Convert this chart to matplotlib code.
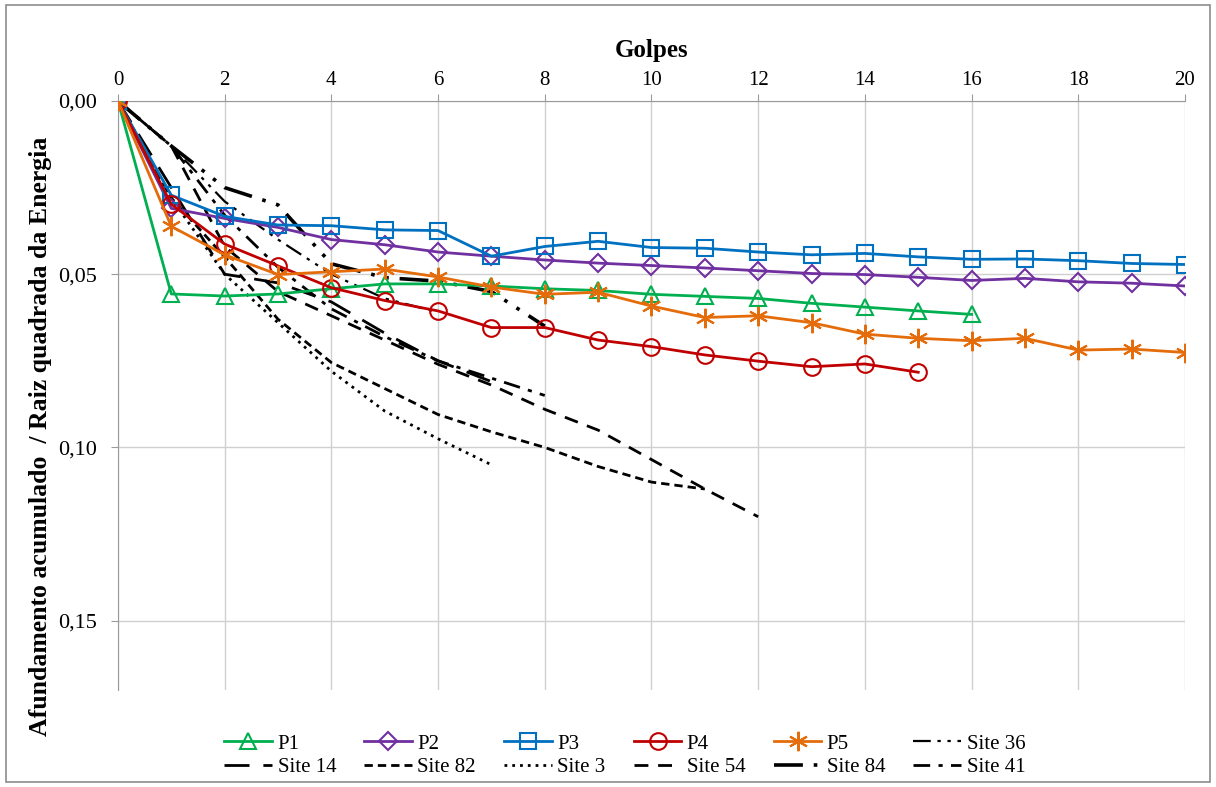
import matplotlib.pyplot as plt
import matplotlib.ticker as mticker
from matplotlib.patches import Rectangle

# golpes (blows) on x, accumulated sinking / sqrt(energy) on y
golpes = list(range(21))

p1 = [0, 0.0557, 0.0563, 0.0557, 0.0542, 0.0528, 0.0528, 0.0534, 0.0542, 0.0547,
      0.0558, 0.0564, 0.0570, 0.0584, 0.0595, 0.0606, 0.0616]
p2 = [0, 0.0310, 0.0339, 0.0365, 0.0400, 0.0415, 0.0436, 0.0448, 0.0459, 0.0468,
      0.0475, 0.0482, 0.0490, 0.0498, 0.0501, 0.0509, 0.0518, 0.0512, 0.0522,
      0.0526, 0.0534]
p3 = [0, 0.0272, 0.0333, 0.0358, 0.0360, 0.0372, 0.0374, 0.0448, 0.0420, 0.0405,
      0.0423, 0.0425, 0.0436, 0.0444, 0.0440, 0.0450, 0.0457, 0.0456, 0.0461,
      0.0469, 0.0472]
p4 = [0, 0.0298, 0.0413, 0.0476, 0.0539, 0.0576, 0.0606, 0.0654, 0.0654, 0.0690,
      0.0709, 0.0733, 0.0751, 0.0767, 0.0759, 0.0783]
p5 = [0, 0.0362, 0.0444, 0.0501, 0.0493, 0.0485, 0.0508, 0.0537, 0.0558, 0.0552,
      0.0592, 0.0625, 0.0620, 0.0640, 0.0673, 0.0685, 0.0692, 0.0685, 0.0719,
      0.0716, 0.0726]

site36 = [0, 0.013, 0.029, 0.040, 0.050, 0.057, 0.061]
site14 = [0, 0.025, 0.050, 0.0525, 0.058, 0.067, 0.075, 0.081]
site82 = [0, 0.028, 0.045, 0.063, 0.0755, 0.083, 0.0905, 0.0955, 0.100, 0.1055,
          0.110, 0.112]
site3 = [0, 0.028, 0.050, 0.064, 0.078, 0.0895, 0.0975, 0.105]
site54 = [0, 0.013, 0.042, 0.055, 0.062, 0.069, 0.076, 0.082, 0.089, 0.095,
          0.1035, 0.112, 0.120]
site84 = [0, 0.013, 0.025, 0.030, 0.047, 0.051, 0.052, 0.055, 0.065]
site41 = [0, 0.013, 0.033, 0.048, 0.060, 0.068, 0.075, 0.080, 0.085]

plt.rcParams['font.family'] = ['Liberation Serif', 'DejaVu Serif']

fig = plt.figure(figsize=(12.16, 7.87), dpi=100)
ax = fig.add_axes([0.097, 0.1233, 0.8775, 0.7484])

# outer frame of the chart area
fig.patches.append(Rectangle((0.005, 0.006), 0.99, 0.988, transform=fig.transFigure,
                             fill=False, edgecolor='#8c8c8c', linewidth=1.2))

ms = 12
h = {}
h['P1'], = ax.plot(golpes[:len(p1)], p1, color='#00B050', lw=2, marker='^', ms=ms,
                   mfc='none', mec='#00B050', mew=1.5, label='P1', zorder=5)
h['P2'], = ax.plot(golpes[:len(p2)], p2, color='#7030A0', lw=2, marker='D', ms=9,
                   mfc='none', mec='#7030A0', mew=1.5, label='P2', zorder=5)
h['P3'], = ax.plot(golpes[:len(p3)], p3, color='#0070C0', lw=2, marker='s', ms=ms,
                   mfc='none', mec='#0070C0', mew=1.5, label='P3', zorder=5)
h['P4'], = ax.plot(golpes[:len(p4)], p4, color='#C00000', lw=2, marker='o', ms=ms,
                   mfc='none', mec='#C00000', mew=1.5, label='P4', zorder=5)
h['P5'], = ax.plot(golpes[:len(p5)], p5, color='#E46C0A', lw=2, marker=(6, 2, 0), ms=14,
                   mec='#E46C0A', mew=1.5, label='P5', zorder=5)

h['Site 36'], = ax.plot(golpes[:len(site36)], site36, color='black', lw=1.6,
                        ls=(0, (8, 3, 1.5, 3, 1.5, 3)), label='Site 36')
h['Site 14'], = ax.plot(golpes[:len(site14)], site14, color='black', lw=2,
                        ls=(0, (9, 5)), label='Site 14')
h['Site 82'], = ax.plot(golpes[:len(site82)], site82, color='black', lw=2,
                        ls=(0, (3, 1.8)), label='Site 82')
h['Site 3'], = ax.plot(golpes[:len(site3)], site3, color='black', lw=2,
                       ls=(0, (1, 1.8)), label='Site 3')
h['Site 54'], = ax.plot(golpes[:len(site54)], site54, color='black', lw=2,
                        ls=(0, (5, 3.5)), label='Site 54')
h['Site 84'], = ax.plot(golpes[:len(site84)], site84, color='black', lw=2.6,
                        ls=(0, (8, 3, 1, 3, 1, 3)), label='Site 84')
h['Site 41'], = ax.plot(golpes[:len(site41)], site41, color='black', lw=2,
                        ls=(0, (6, 3, 1.5, 3)), label='Site 41')

ax.set_xlim(0, 20)
ax.set_ylim(0.17, 0)
ax.xaxis.set_major_locator(mticker.MultipleLocator(2))
ax.yaxis.set_major_locator(mticker.MultipleLocator(0.05))
ax.yaxis.set_major_formatter(mticker.FuncFormatter(lambda v, p: f"{v:.2f}".replace('.', ',')))
ax.xaxis.tick_top()
ax.xaxis.set_label_position('top')
ax.grid(True, color='#d0d0d0', lw=1)
ax.set_axisbelow(True)
for s in ['right', 'bottom']:
    ax.spines[s].set_visible(False)
ax.spines['top'].set_color('#9a9a9a')
ax.spines['left'].set_color('#9a9a9a')
ax.tick_params(axis='both', colors='#9a9a9a', labelcolor='black', length=5)
ax.tick_params(axis='x', labelsize=15, pad=3)
ax.tick_params(axis='y', labelsize=16, pad=10)

ax.set_xlabel('Golpes', fontsize=18, fontweight='bold', labelpad=10)
ax.set_ylabel('Afundamento acumulado  / Raiz quadrada da Energia', fontsize=18.5,
              fontweight='bold')
ax.yaxis.set_label_coords(-0.062, 0.43)

# legend filled row by row like the original
order = ['P1', 'Site 14', 'P2', 'Site 82', 'P3', 'Site 3', 'P4', 'Site 54',
         'P5', 'Site 84', 'Site 36', 'Site 41']
ax.legend([h[k] for k in order], order, loc='upper center',
          bbox_to_anchor=(0.475, -0.043), ncol=6, frameon=False,
          fontsize=15, handlelength=2.3, columnspacing=1.35, handletextpad=0.25,
          labelspacing=0.2)

fig.savefig('out.png', dpi=100)
